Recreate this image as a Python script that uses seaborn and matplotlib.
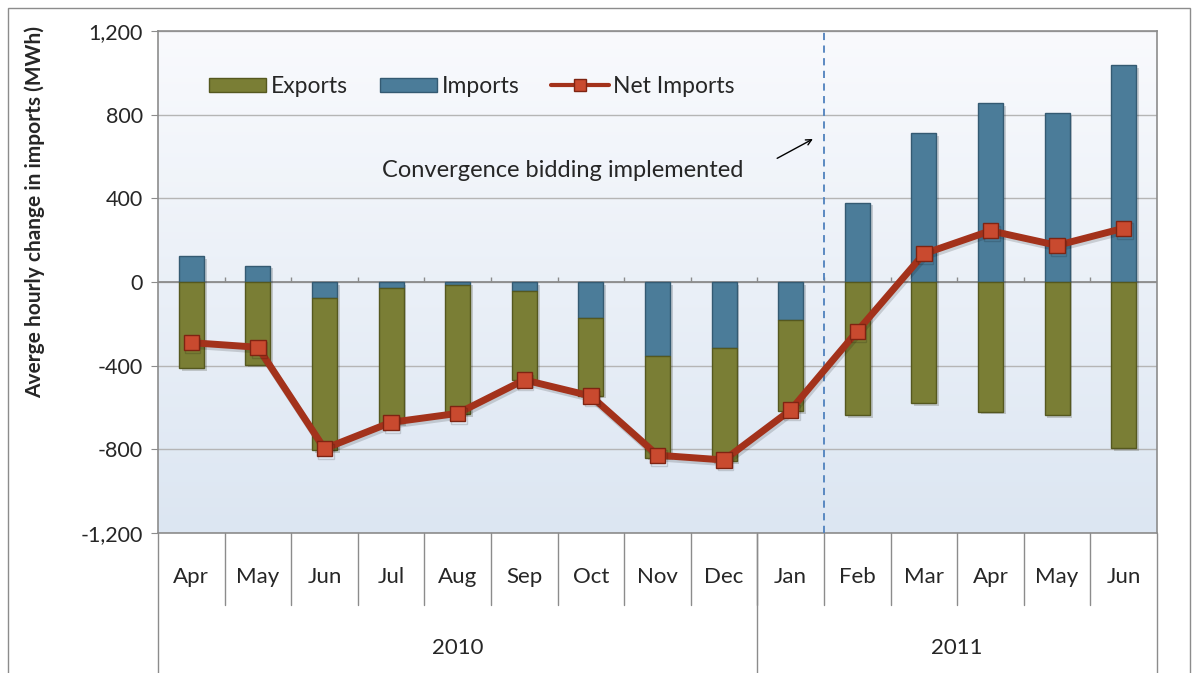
import numpy as np
import pandas as pd
import matplotlib
matplotlib.use('Agg')
import matplotlib.pyplot as plt
import matplotlib.patheffects as pe
from matplotlib.patches import Patch, Rectangle
from matplotlib.lines import Line2D
from matplotlib.ticker import FuncFormatter
import seaborn as sns

# data (MWh)
months = ['Apr', 'May', 'Jun', 'Jul', 'Aug', 'Sep', 'Oct', 'Nov', 'Dec',
          'Jan', 'Feb', 'Mar', 'Apr', 'May', 'Jun']
years = ['2010', '2011']
year_len = [9, 6]
imports = [124, 78, -78, -30, -12, -42, -171, -352, -317, -182, 380, 711, 854, 806, 1037]
exports = [-411, -395, -725, -645, -618, -426, -372, -488, -540, -436, -638, -580, -620, -636, -795]
net_imports = [-290, -312, -797, -671, -628, -468, -545, -828, -851, -612, -235, 135, 245, 175, 257]

df = pd.DataFrame({'pos': np.arange(len(months)), 'month': months,
                   'imports': imports, 'exports': exports, 'net': net_imports})
df['exp_base'] = df['imports'].clip(upper=0)

sns.set_style('white')
plt.rcParams['font.family'] = ['Lato', 'DejaVu Sans']

OLIVE, OLIVE_E = '#7A7E35', '#55581F'
BLUE, BLUE_E = '#4B7C99', '#345a72'
RED, RED_M, RED_E = '#A3321B', '#C94A2F', '#7E2412'
GRAY = '#8C8C8C'

fig = plt.figure(figsize=(11.93, 6.73), dpi=100)
ax = fig.add_axes([158 / 1193, 1 - 533 / 673, 999 / 1193, 502 / 673])

# gradient background of the plot area (light at top, pale blue at bottom)
grad = np.linspace(0, 1, 256).reshape(-1, 1)
bg = matplotlib.colors.LinearSegmentedColormap.from_list('bg', ['#F9FAFD', '#DCE6F2'])
ax.imshow(grad, extent=[-0.5, 14.5, -1200, 1200], origin='upper', aspect='auto',
          cmap=bg, zorder=-2)

shadow_bar = [pe.SimplePatchShadow(offset=(2, -2), alpha=0.2), pe.Normal()]
sns.barplot(data=df, x='pos', y='imports', color=BLUE, saturation=1, width=0.375,
            errorbar=None, edgecolor=BLUE_E, linewidth=1, ax=ax, zorder=2)
sns.barplot(data=df, x='pos', y='exports', color=OLIVE, saturation=1, width=0.375,
            errorbar=None, edgecolor=OLIVE_E, linewidth=1, ax=ax, zorder=2,
            bottom=df['exp_base'].values)
for p in ax.patches:
    p.set_path_effects(shadow_bar)

sns.lineplot(data=df, x='pos', y='net', color=RED, lw=5, marker='s', markersize=11,
             markerfacecolor=RED_M, markeredgecolor=RED_E, markeredgewidth=1,
             ax=ax, zorder=5,
             path_effects=[pe.SimpleLineShadow(offset=(1, -2), alpha=0.15,
                                               shadow_color='black'), pe.Normal()])

ax.set_xlim(-0.5, 14.5)
ax.set_ylim(-1200, 1200)
ax.set_yticks(np.arange(-1200, 1201, 400))
ax.yaxis.set_major_formatter(FuncFormatter(lambda v, _: '{:,}'.format(int(v))))
ax.tick_params(axis='y', direction='out', length=5, color=GRAY, labelsize=15.5, pad=6,
               left=True)
ax.set_xticks([])
ax.set_xlabel('')
ax.yaxis.grid(True, color='#B5B5B5', lw=1)
ax.set_axisbelow(True)
for s in ax.spines.values():
    s.set_color(GRAY)
    s.set_linewidth(1.2)

# horizontal axis at zero with small boundary ticks
ax.axhline(0, color=GRAY, lw=1.3, zorder=1)
ax.vlines(np.arange(0.5, 14, 1), 0, 22, color=GRAY, lw=1, zorder=1)

ax.set_ylabel('Averge hourly change in imports (MWh)', fontsize=15, fontweight='bold')
ax.yaxis.set_label_coords(-0.113, 0.64)

# multi-level category axis
trans = ax.get_xaxis_transform()
for i, m in enumerate(months):
    ax.text(i, -0.088, m, transform=trans, ha='center', va='center', fontsize=16)
for b in np.arange(0.5, 14, 1):
    ax.plot([b, b], [0, -0.1434], transform=trans, color=GRAY, lw=1, clip_on=False)
edges = np.concatenate([[0], np.cumsum(year_len)]) - 0.5
for e in edges:
    ax.plot([e, e], [0, -0.3], transform=trans, color=GRAY, lw=1, clip_on=False)
for y, a, b in zip(years, edges[:-1], edges[1:]):
    ax.text((a + b) / 2, -0.229, y, transform=trans, ha='center', va='center', fontsize=16)

# convergence bidding marker
ax.axvline(9.5, color='#4F81BD', lw=1.3, ls=(0, (4, 3)), zorder=3)
ax.text(5.58, 535, 'Convergence bidding implemented', ha='center', va='center', fontsize=17)
ax.annotate('', xy=(9.37, 690), xytext=(8.76, 585),
            arrowprops=dict(arrowstyle='->', color='black', lw=1))

handles = [Patch(facecolor=OLIVE, edgecolor=OLIVE_E, label='Exports'),
           Patch(facecolor=BLUE, edgecolor=BLUE_E, label='Imports'),
           Line2D([], [], color=RED, lw=3, marker='s', markersize=9,
                  markerfacecolor=RED_M, markeredgecolor=RED_E, label='Net Imports')]
ax.legend(handles=handles, loc='center left', bbox_to_anchor=(0.03, 0.89), ncol=3,
          frameon=False, fontsize=16.5, handlelength=2.5, handleheight=0.55,
          handletextpad=0.2, columnspacing=1.4)

fig.patches.append(Rectangle((8 / 1193, -0.01), 1182 / 1193, 1 - 8 / 673 + 0.01,
                             transform=fig.transFigure, fill=False,
                             edgecolor=GRAY, lw=1))

fig.savefig('out.png', dpi=100, facecolor='white')
